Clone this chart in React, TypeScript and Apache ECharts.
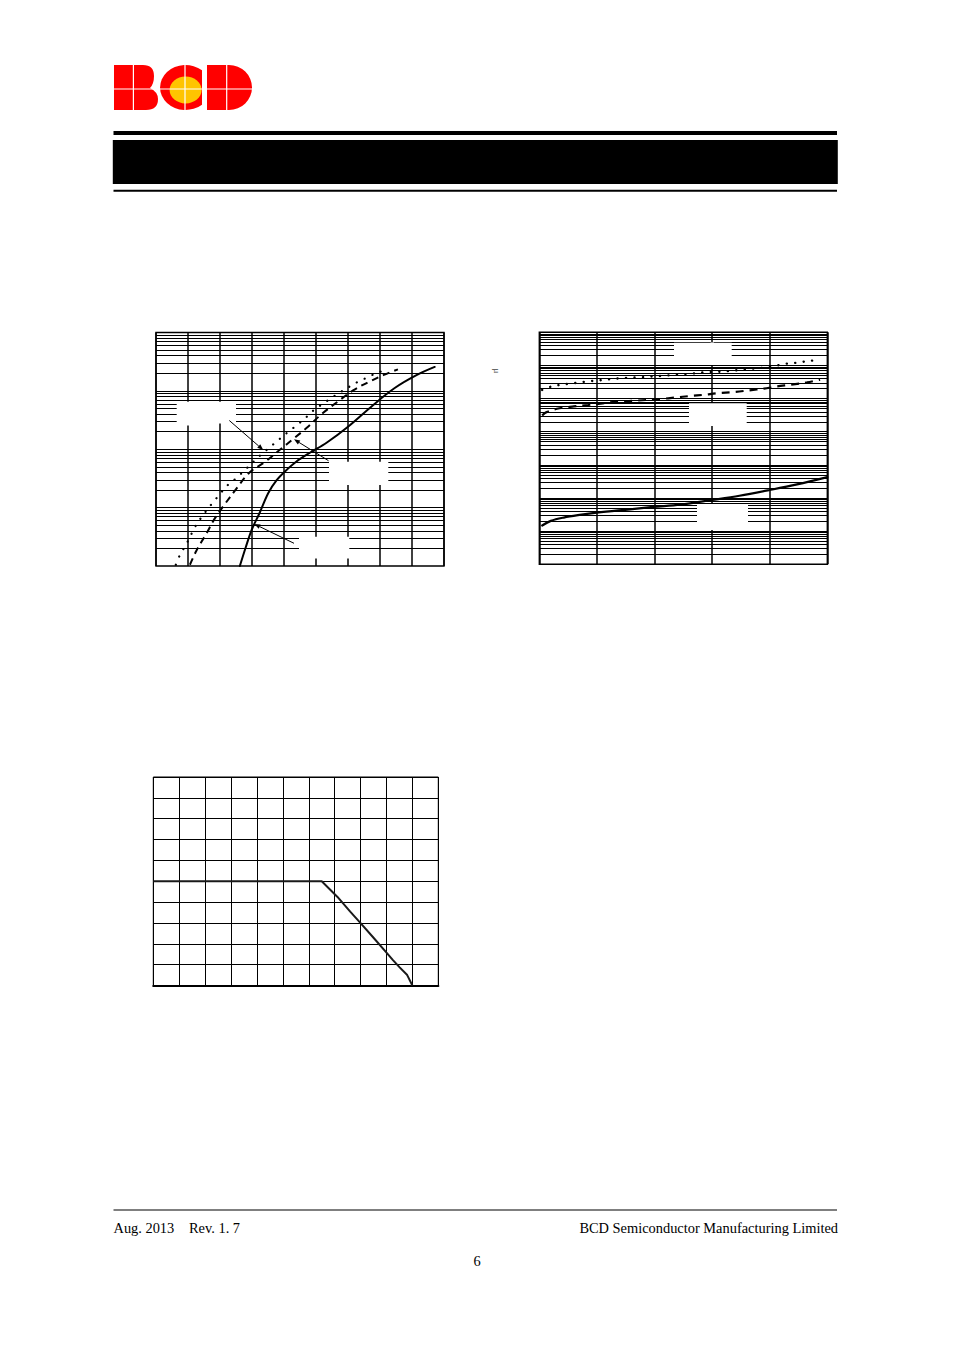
import React, { useEffect, useRef } from "react";
import * as echarts from "echarts";

// ---------- Chart 1 (linear x, log y 4 decades) ----------
const c1X = { min: 0, max: 900, step: 100 };
const c1YExp = { min: -3, max: 1 };
const c1Dotted: [number, number][] = [
  [62, 0.00105], [75, 0.00155], [90, 0.00214], [104, 0.00295], [118, 0.00427],
  [135, 0.00603], [155, 0.00851], [175, 0.0117], [198, 0.0166], [223, 0.024],
  [252, 0.0324], [279, 0.0447], [307, 0.0631], [333, 0.0851], [359, 0.112],
  [385, 0.148], [414, 0.2], [442, 0.263], [468, 0.347], [493, 0.468],
  [522, 0.603], [551, 0.776], [577, 0.955], [603, 1.17], [633, 1.45],
  [661, 1.7], [687, 2.0], [715, 2.24],
];
const c1Dashed: [number, number][] = [
  [106, 0.00105], [127, 0.00186], [158, 0.00363], [181, 0.00617], [210, 0.0105],
  [252, 0.0214], [290, 0.0389], [342, 0.0617], [387, 0.0977], [432, 0.155],
  [476, 0.245], [517, 0.398], [569, 0.661], [616, 1.02], [668, 1.45],
  [710, 1.86], [756, 2.34],
];
const c1Solid: [number, number][] = [
  [262, 0.001], [281, 0.00214], [299, 0.00417], [323, 0.00794], [351, 0.0178],
  [377, 0.0295], [403, 0.0417], [439, 0.0617], [481, 0.0871], [533, 0.129],
  [601, 0.245], [679, 0.575], [746, 1.12], [814, 1.86], [871, 2.57],
];

// ---------- Chart 2 (linear x, log y 7 decades) ----------
const c2X = { min: -40, max: 160, step: 40 };
const c2YExp = { min: -3, max: 4 };
const c2Dotted: [number, number][] = [
  [-38, 182], [-32, 229], [-26, 257], [-19, 282], [-13, 302], [-8, 324],
  [-1, 347], [4, 363], [10, 389], [16, 407], [22, 427], [29, 437],
  [35, 455], [41, 470], [47, 490], [53, 515], [59, 540], [65, 562],
  [77, 631], [83, 640], [89, 661], [96, 708], [102, 741], [108, 800],
  [114, 840], [125, 1000], [131, 1122], [138, 1202], [143, 1288],
  [150, 1413], [155, 1585],
];
const c2Dashed: [number, number][] = [
  [-38, 31], [-35, 39], [-26, 51], [-16, 58], [-6, 64], [4, 72],
  [15, 81], [24, 85], [45, 98], [54, 107], [65, 120], [74, 130],
  [84, 146], [95, 158], [106, 178], [116, 200], [125, 234], [135, 263],
  [146, 309], [155, 372],
];
const c2Solid: [number, number][] = [
  [-38, 0.0148], [-32, 0.0204], [-23, 0.0257], [-12, 0.0309], [0, 0.0363],
  [23, 0.0457], [39, 0.0537], [58, 0.0631], [80, 0.0871], [99, 0.117],
  [120, 0.174], [139, 0.257], [160, 0.427],
];

// ---------- Chart 3 (linear / linear) ----------
const c3X = { min: -40, max: 180, step: 20 };
const c3Y = { min: 0, max: 100, step: 10 };
const c3Curve: [number, number][] = [
  [-40, 50], [90, 50], [102, 42.6], [112, 35.4], [120, 29.9], [130, 22.9],
  [140, 15.8], [145, 12.2], [150, 8.8], [156, 5], [160, 0],
];

// ---------- Page texts ----------
const footerLeftDate = "Aug. 2013";
const footerLeftRev = "Rev. 1. 7";
const footerRight = "BCD Semiconductor Manufacturing Limited";
const pageNumber = "6";
const yUnitFragment = "μ";

// ---------- Logo shapes ----------
const logoB = "M114 65 H143 Q154 65 154 76 Q154 84 150 88 Q158 92 158 99 Q158 110 146 110 H114 Z";
const logoC = "M202 70.3 A25.5 22.5 0 1 0 202 104.7 Z";
const logoD = "M207 65 H229 A23 22.5 0 0 1 229 110 H207 Z";
echarts.graphic.registerShape("bcdB", echarts.graphic.extendPath(logoB, {}));
echarts.graphic.registerShape("bcdC", echarts.graphic.extendPath(logoC, {}));
echarts.graphic.registerShape("bcdD", echarts.graphic.extendPath(logoD, {}));

function logLines(minExp: number, maxExp: number) {
  const out: { yAxis: number }[] = [];
  for (let e = minExp; e < maxExp; e++) {
    for (let k = 1; k <= 9; k++) {
      if (k === 1 && e === minExp) continue;
      out.push({ yAxis: k * Math.pow(10, e) });
    }
  }
  return out;
}

function arrow(x1: number, y1: number, x2: number, y2: number) {
  const dx = x2 - x1, dy = y2 - y1;
  const L = Math.hypot(dx, dy);
  const ux = dx / L, uy = dy / L;
  const hl = 6, hw = 2.3;
  const bx = x2 - ux * hl, by = y2 - uy * hl;
  return [
    { type: "line", z: 120, shape: { x1, y1, x2: bx, y2: by }, style: { stroke: "#000", lineWidth: 1 } },
    {
      type: "polygon", z: 120,
      shape: { points: [[x2, y2], [bx - uy * hw, by + ux * hw], [bx + uy * hw, by - ux * hw]] },
      style: { fill: "#000" },
    },
  ];
}

function whiteRect(x: number, y: number, w: number, h: number) {
  return { type: "rect", z: 110, shape: { x, y, width: w, height: h }, style: { fill: "#fff" } };
}

const hidden = { axisLabel: { show: false }, axisTick: { show: false }, axisLine: { show: false } };

function markLines(lines: { yAxis: number }[]) {
  return {
    silent: true,
    precision: 10,
    symbol: ["none", "none"],
    label: { show: false },
    emphasis: { disabled: true },
    lineStyle: { color: "#000", type: "solid", width: 1.1 },
    data: lines,
  };
}

export default function App() {
  const ref = useRef<HTMLDivElement>(null);
  useEffect(() => {
    if (!ref.current) return;
    const chart = echarts.init(ref.current, null, { renderer: "svg" });
    const curve = (
      data: [number, number][], idx: number, type: any, width: number, extra: any = {}
    ) => ({
      type: "line",
      xAxisIndex: idx,
      yAxisIndex: idx,
      data,
      showSymbol: false,
      smooth: 0.35,
      silent: true,
      lineStyle: { color: "#000", width, type, cap: "round" },
      z: 5,
      ...extra,
    });
    const serif = "Liberation Serif";
    const option: any = {
      animation: false,
      backgroundColor: "#fff",
      grid: [
        { left: 156, top: 332.5, width: 288, height: 233.5, show: true, borderColor: "#000", borderWidth: 1.4 },
        { left: 539.3, top: 332.3, width: 288, height: 232, show: true, borderColor: "#000", borderWidth: 1.4 },
        { left: 153.3, top: 777, width: 285, height: 208.5, show: true, borderColor: "#000", borderWidth: 1 },
      ],
      xAxis: [
        {
          gridIndex: 0, type: "value", min: c1X.min, max: c1X.max, interval: c1X.step, ...hidden,
          splitLine: { show: true, lineStyle: { color: "#000", width: 1.5 } },
        },
        {
          gridIndex: 1, type: "value", min: c2X.min, max: c2X.max, interval: c2X.step, ...hidden,
          splitLine: { show: true, lineStyle: { color: "#000", width: 1.5 } },
        },
        {
          gridIndex: 2, type: "value", min: c3X.min, max: c3X.max, interval: c3X.step,
          axisLabel: { show: false }, axisTick: { show: false },
          axisLine: { show: true, lineStyle: { color: "#000", width: 2.2 } },
          splitLine: { show: true, lineStyle: { color: "#000", width: 1 } },
        },
      ],
      yAxis: [
        {
          gridIndex: 0, type: "log", logBase: 10, min: Math.pow(10, c1YExp.min), max: Math.pow(10, c1YExp.max),
          ...hidden, splitLine: { show: false },
        },
        {
          gridIndex: 1, type: "log", logBase: 10, min: Math.pow(10, c2YExp.min), max: Math.pow(10, c2YExp.max),
          ...hidden, splitLine: { show: false },
        },
        {
          gridIndex: 2, type: "value", min: c3Y.min, max: c3Y.max, interval: c3Y.step, ...hidden,
          splitLine: { show: true, lineStyle: { color: "#000", width: 1 } },
        },
      ],
      series: [
        curve(c1Solid, 0, "solid", 2, { markLine: markLines(logLines(c1YExp.min, c1YExp.max)) }),
        curve(c1Dotted, 0, [0.1, 8.6], 2.2),
        curve(c1Dashed, 0, [7, 5], 2, { lineStyle: { color: "#000", width: 2, type: [7, 5], cap: "butt" } }),
        curve(c2Solid, 1, "solid", 2.2, { markLine: markLines(logLines(c2YExp.min, c2YExp.max)) }),
        curve(c2Dotted, 1, [0.1, 8.4], 2.4),
        curve(c2Dashed, 1, [8, 6], 2, { lineStyle: { color: "#000", width: 2.2, type: [8, 6], cap: "butt" } }),
        {
          type: "line", xAxisIndex: 2, yAxisIndex: 2, data: c3Curve, showSymbol: false, smooth: false,
          silent: true, lineStyle: { color: "#1a1a1a", width: 2 }, z: 5,
        },
      ],
      graphic: {
        elements: [
          // logo
          { type: "bcdB", x: 0, y: 0, z: 50, style: { fill: "#ff0000" } },
          { type: "bcdC", x: 0, y: 0, z: 50, style: { fill: "#ff0000" } },
          { type: "ellipse", z: 51, shape: { cx: 185.6, cy: 90, rx: 16, ry: 13.4 }, style: { fill: "#ffc400" } },
          { type: "bcdD", x: 0, y: 0, z: 50, style: { fill: "#ff0000" } },
          { type: "line", z: 52, shape: { x1: 112, y1: 89, x2: 254, y2: 89 }, style: { stroke: "#fff", lineWidth: 1.2 } },
          { type: "line", z: 52, shape: { x1: 133.4, y1: 63, x2: 133.4, y2: 112 }, style: { stroke: "#fff", lineWidth: 1.2 } },
          { type: "line", z: 52, shape: { x1: 185, y1: 63, x2: 185, y2: 112 }, style: { stroke: "#fff", lineWidth: 1.2 } },
          { type: "line", z: 52, shape: { x1: 226.7, y1: 63, x2: 226.7, y2: 112 }, style: { stroke: "#fff", lineWidth: 1.2 } },
          // header bars
          { type: "rect", z: 50, shape: { x: 113.5, y: 131, width: 723.5, height: 4 }, style: { fill: "#000" } },
          { type: "rect", z: 50, shape: { x: 112.8, y: 140, width: 725, height: 44 }, style: { fill: "#000" } },
          { type: "rect", z: 50, shape: { x: 113.5, y: 189.8, width: 723.5, height: 2 }, style: { fill: "#000" } },
          // chart 1 label boxes + arrows
          whiteRect(176.7, 401.7, 59.3, 21.8),
          whiteRect(186.5, 423, 4, 2.5),
          whiteRect(329, 461.7, 59.3, 23.3),
          whiteRect(299, 536.7, 50.3, 21.8),
          ...arrow(229.3, 420.5, 263.3, 450),
          ...arrow(328.5, 460.7, 294, 439.3),
          ...arrow(294, 543.3, 254.3, 524),
          // chart 2 label boxes
          whiteRect(674, 342.7, 57.7, 14.8),
          whiteRect(710.6, 342.5, 3.4, 22.5),
          whiteRect(689, 403.3, 57.7, 22.7),
          whiteRect(697, 504.3, 51, 18),
          whiteRect(710.6, 504, 3.4, 26),
          {
            type: "text", z: 60, x: 497, y: 371, rotation: -Math.PI / 2,
            style: { text: yUnitFragment, fontSize: 9, fill: "#444", fontFamily: serif, align: "center", verticalAlign: "middle" },
          },
          // footer
          { type: "rect", z: 50, shape: { x: 113.5, y: 1209.6, width: 723.5, height: 1 }, style: { fill: "#000" } },
          {
            type: "text", z: 60, x: 113.5, y: 1228,
            style: { text: footerLeftDate, fontSize: 14.4, fill: "#000", fontFamily: serif, align: "left", verticalAlign: "middle" },
          },
          {
            type: "text", z: 60, x: 189, y: 1228,
            style: { text: footerLeftRev, fontSize: 14.4, fill: "#000", fontFamily: serif, align: "left", verticalAlign: "middle" },
          },
          {
            type: "text", z: 60, x: 838, y: 1228,
            style: { text: footerRight, fontSize: 14.4, fill: "#000", fontFamily: serif, align: "right", verticalAlign: "middle" },
          },
          {
            type: "text", z: 60, x: 477, y: 1261,
            style: { text: pageNumber, fontSize: 14.4, fill: "#000", fontFamily: serif, align: "center", verticalAlign: "middle" },
          },
        ],
      },
    };
    chart.setOption(option);
    return () => chart.dispose();
  }, []);
  return <div ref={ref} style={{ position: "absolute", left: 0, top: 0, width: 954, height: 1350 }} />;
}
